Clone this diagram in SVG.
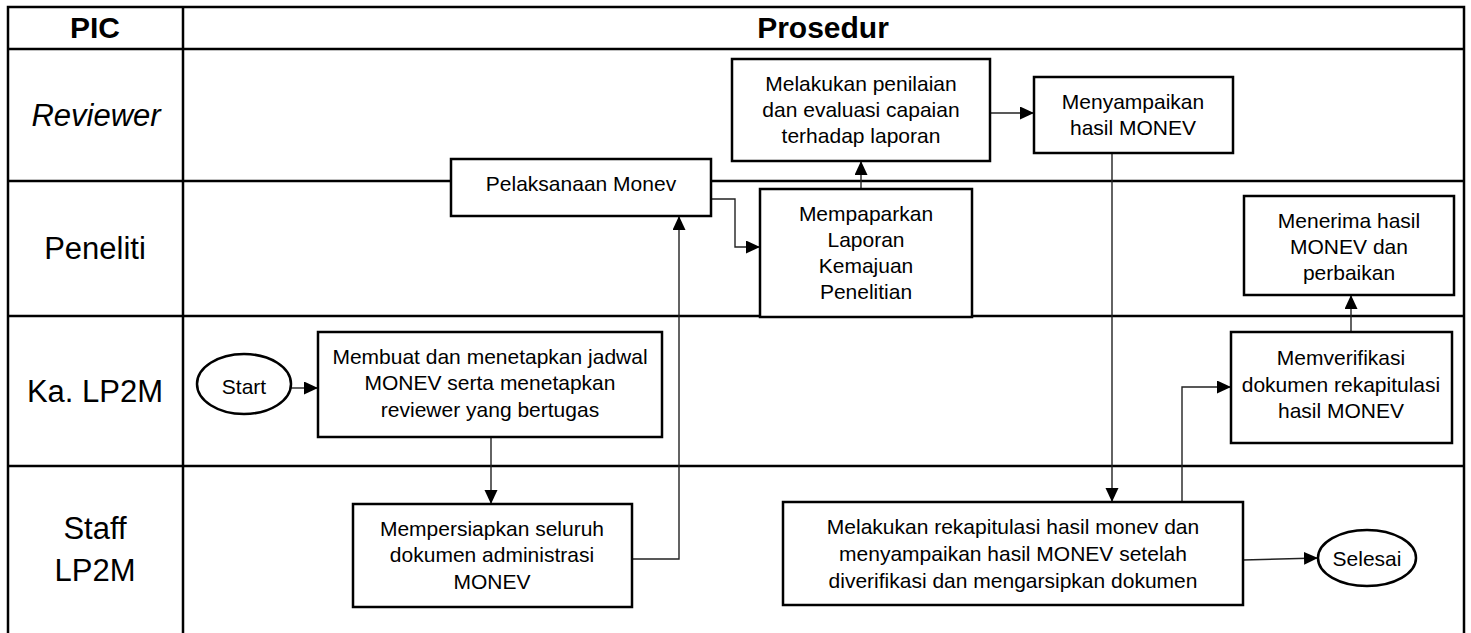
<svg xmlns="http://www.w3.org/2000/svg" width="1471" height="633" viewBox="0 0 1471 633">
  <style>
    .grid { stroke: #000; stroke-width: 2.5; fill: none; }
    .box { fill: #fff; stroke: #000; stroke-width: 2.5; }
    .lane { font-family: "Liberation Sans", Arial, sans-serif; font-size: 31px; fill: #000; text-anchor: middle; }
    .head { font-family: "Liberation Sans", Arial, sans-serif; font-size: 30px; font-weight: bold; fill: #000; text-anchor: middle; }
    .txt { font-family: "Liberation Sans", Arial, sans-serif; font-size: 21px; fill: #000; text-anchor: middle; }
    .conn { fill: none; stroke: #222; stroke-width: 1.4; marker-end: url(#arrow); }
  </style>
  <defs>
    <marker id="arrow" markerUnits="userSpaceOnUse" markerWidth="15" markerHeight="14" refX="14" refY="6.5" orient="auto">
      <path d="M0,0 L14,6.5 L0,13 Z" fill="#000"/>
    </marker>
  </defs>

  <rect width="1471" height="633" fill="#fff"/>

  <!-- swimlane table -->
  <g id="table">
    <path class="grid" d="M8,640 V7 H1464 V640 M183,7 V640 M8,49 H1464 M8,181 H1464 M8,316 H1464 M8,466 H1464"/>
    <text class="head" x="95" y="38">PIC</text>
    <text class="head" x="823" y="38">Prosedur</text>
    <text class="lane" x="96" y="126" font-style="italic">Reviewer</text>
    <text class="lane" x="95" y="259">Peneliti</text>
    <text class="lane" x="95" y="402">Ka. LP2M</text>
    <text class="lane" x="95" y="539">Staff</text>
    <text class="lane" x="95" y="581">LP2M</text>
  </g>

  <!-- connectors -->
  <g id="connectors">
    <path class="conn" d="M291,388 H318"/>
    <path class="conn" d="M491,437 V504"/>
    <path class="conn" d="M632,559 H679 V216"/>
    <path class="conn" d="M711,199 H735 V247 H760"/>
    <path class="conn" d="M861,189 V161"/>
    <path class="conn" d="M990,113 H1034"/>
    <path class="conn" d="M1112,153 V502"/>
    <path class="conn" d="M1182,510 V387 H1231"/>
    <path class="conn" d="M1351,332 V295"/>
    <path class="conn" d="M1243,560 L1318,558"/>
  </g>

  <!-- process nodes -->
  <g id="start">
    <ellipse class="box" cx="244" cy="384" rx="47" ry="30"/>
    <text class="txt" x="244" y="394">Start</text>
  </g>

  <g id="membuat-jadwal">
    <rect class="box" x="318" y="332" width="344" height="105"/>
    <text class="txt" x="490" y="364">Membuat dan menetapkan jadwal</text>
    <text class="txt" x="490" y="390">MONEV serta menetapkan</text>
    <text class="txt" x="490" y="417">reviewer yang bertugas</text>
  </g>

  <g id="mempersiapkan-dokumen">
    <rect class="box" x="353" y="504" width="279" height="103"/>
    <text class="txt" x="492" y="536">Mempersiapkan seluruh</text>
    <text class="txt" x="492" y="562">dokumen administrasi</text>
    <text class="txt" x="492" y="589">MONEV</text>
  </g>

  <g id="pelaksanaan-monev">
    <rect class="box" x="451" y="159" width="260" height="57"/>
    <text class="txt" x="581" y="191" font-size="20">Pelaksanaan Monev</text>
  </g>

  <g id="mempaparkan-laporan">
    <rect class="box" x="760" y="189" width="212" height="128"/>
    <text class="txt" x="866" y="221">Mempaparkan</text>
    <text class="txt" x="866" y="247">Laporan</text>
    <text class="txt" x="866" y="273">Kemajuan</text>
    <text class="txt" x="866" y="299">Penelitian</text>
  </g>

  <g id="penilaian-evaluasi">
    <rect class="box" x="732" y="59" width="258" height="102"/>
    <text class="txt" x="861" y="91">Melakukan penilaian</text>
    <text class="txt" x="861" y="117">dan evaluasi capaian</text>
    <text class="txt" x="861" y="143">terhadap laporan</text>
  </g>

  <g id="menyampaikan-hasil">
    <rect class="box" x="1034" y="77" width="199" height="76"/>
    <text class="txt" x="1133" y="109">Menyampaikan</text>
    <text class="txt" x="1133" y="135">hasil MONEV</text>
  </g>

  <g id="rekapitulasi">
    <rect class="box" x="783" y="502" width="460" height="103"/>
    <text class="txt" x="1013" y="534">Melakukan rekapitulasi hasil monev dan</text>
    <text class="txt" x="1013" y="561">menyampaikan hasil MONEV setelah</text>
    <text class="txt" x="1013" y="588">diverifikasi dan mengarsipkan dokumen</text>
  </g>

  <g id="memverifikasi">
    <rect class="box" x="1231" y="332" width="221" height="111"/>
    <text class="txt" x="1341" y="365">Memverifikasi</text>
    <text class="txt" x="1341" y="392">dokumen rekapitulasi</text>
    <text class="txt" x="1341" y="418">hasil MONEV</text>
  </g>

  <g id="menerima-hasil">
    <rect class="box" x="1244" y="196" width="210" height="99"/>
    <text class="txt" x="1349" y="228">Menerima hasil</text>
    <text class="txt" x="1349" y="254">MONEV dan</text>
    <text class="txt" x="1349" y="280">perbaikan</text>
  </g>

  <g id="selesai">
    <ellipse class="box" cx="1367" cy="558" rx="49" ry="28"/>
    <text class="txt" x="1367" y="566">Selesai</text>
  </g>
</svg>
